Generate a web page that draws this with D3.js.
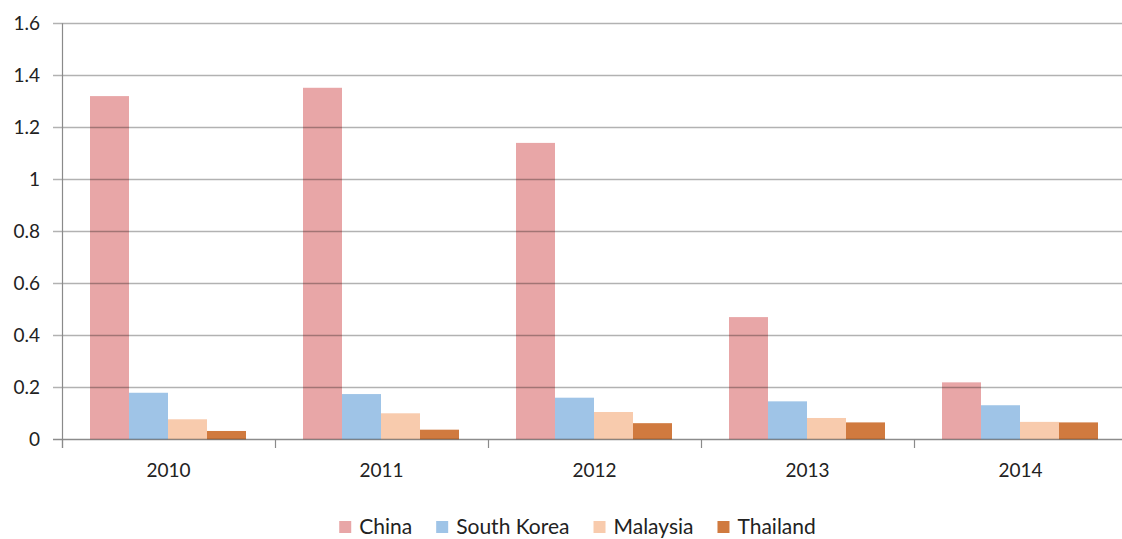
<!DOCTYPE html>
<html><head><meta charset="utf-8">
<script src="https://cdn.jsdelivr.net/npm/d3@7/dist/d3.min.js"></script>
<style>html,body{margin:0;padding:0;background:#fff;}svg{display:block;}</style>
</head><body>
<script>
const years = ["2010","2011","2012","2013","2014"];
const seriesNames = ["China","South Korea","Malaysia","Thailand"];
const china = [1.32, 1.352, 1.14, 0.47, 0.219];
const southKorea = [0.179, 0.174, 0.16, 0.146, 0.131];
const malaysia = [0.077, 0.10, 0.105, 0.082, 0.067];
const thailand = [0.032, 0.037, 0.062, 0.065, 0.065];
const yTicks = [0, 0.2, 0.4, 0.6, 0.8, 1, 1.2, 1.4, 1.6];
const colors = ["#e8a6a7", "#9fc4e7", "#f8cbad", "#d07a3f"];
const allSeries = [china, southKorea, malaysia, thailand];

const W = 1122, H = 539;
const svg = d3.select("body").append("svg").attr("width", W).attr("height", H);
const font = "Lato, 'Open Sans', sans-serif";

const x0 = d3.scaleBand().domain(years).range([62, 1127]).paddingInner(0).paddingOuter(0);
const y = d3.scaleLinear().domain([0, 1.6]).range([439.3, 23.3]);
const x1 = d3.scaleBand().domain(seriesNames).range([28, 28 + 156]);

// bars
const g = svg.append("g");
years.forEach((yr, i) => {
  seriesNames.forEach((s, j) => {
    const v = allSeries[j][i];
    g.append("rect")
      .attr("x", x0(yr) + x1(s))
      .attr("width", x1.bandwidth())
      .attr("y", y(v))
      .attr("height", y(0) - y(v))
      .attr("fill", colors[j]);
  });
});

// gridlines on top (semi-transparent so they darken over bars)
const yAxis = d3.axisLeft(y).tickValues(yTicks).tickFormat(d => d3.format("")(d)).tickSize(0);
const grid = svg.append("g");
yTicks.forEach(t => {
  grid.append("line").attr("x1", 53).attr("x2", 1127)
    .attr("y1", Math.round(y(t)) + 0.5).attr("y2", Math.round(y(t)) + 0.5)
    .attr("stroke", t === 0 ? "rgba(0,0,0,0.45)" : "rgba(0,0,0,0.3)").attr("stroke-width", 1.3);
});

// y axis line and labels
const ya = svg.append("g").attr("transform", "translate(62,0)").call(yAxis);
ya.select(".domain").remove();
ya.selectAll("text").attr("x", -22).attr("dy", "0.35em")
  .style("font-family", font).style("font-size", "19px").attr("fill", "#222");
svg.append("line").attr("x1", 62.5).attr("x2", 62.5).attr("y1", y(1.6)).attr("y2", 448)
  .attr("stroke", "#8a8a8a").attr("stroke-width", 1.2);

// x axis ticks at category boundaries
const xa = svg.append("g").attr("transform", "translate(0,439.3)")
  .call(d3.axisBottom(x0).tickSize(0).tickPadding(24));
xa.select(".domain").remove();
xa.selectAll("text").style("font-family", font).style("font-size", "19px").attr("fill", "#222");
const bounds = years.map(yr => x0(yr)).concat([x0.range()[1]]);
bounds.forEach(b => {
  svg.append("line").attr("x1", Math.round(b) + 0.5).attr("x2", Math.round(b) + 0.5)
    .attr("y1", 439).attr("y2", 448).attr("stroke", "#8a8a8a").attr("stroke-width", 1.2);
});

// legend
const leg = svg.append("g");
let cx = 0;
seriesNames.forEach((s, j) => {
  const it = leg.append("g");
  it.append("rect").attr("x", 0).attr("y", -13).attr("width", 12).attr("height", 12).attr("fill", colors[j]);
  const t = it.append("text").attr("x", 20).attr("y", 0).text(s)
    .style("font-family", font).style("font-size", "21px").attr("fill", "#222");
  const w = 20 + t.node().getComputedTextLength();
  it.attr("transform", `translate(${cx},0)`);
  cx += w + 24;
});
const total = cx - 24;
leg.attr("transform", `translate(${577.5 - total / 2},534)`);
</script>
</body></html>
